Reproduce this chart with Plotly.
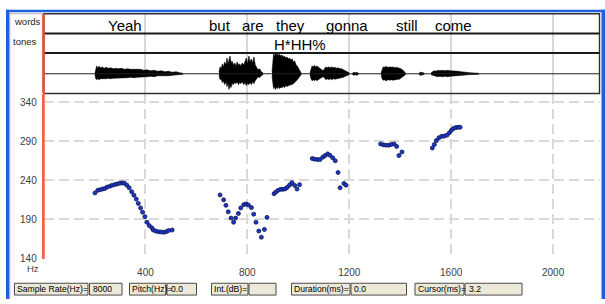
import plotly.graph_objects as go

W, H = 605, 304
def px(x): return x / W
def py(y): return 1 - y / H

# ---------------- data ----------------
pitch_t = [202, 213, 222, 232, 241, 250, 261, 270, 281, 290, 300, 309, 317, 327, 336, 346, 355, 364, 372, 381,
           389, 398, 406, 415, 425, 431, 440, 451, 461, 472, 481, 491, 505,
           693, 707, 716, 725, 736, 746, 754, 765, 774, 786, 795, 804, 816, 825, 834, 845, 855, 867, 877,
           905, 912, 921, 931, 940, 949, 957, 966, 975, 986, 995, 1005,
           1055, 1064, 1075, 1085, 1096, 1105, 1115, 1124, 1135, 1145, 1156, 1164, 1179, 1187,
           1323, 1334, 1344, 1355, 1365, 1376, 1386, 1395, 1407,
           1526, 1534, 1542, 1552, 1563, 1573, 1584, 1593, 1601, 1609, 1618, 1627, 1635]
pitch_hz = [223.8, 227.1, 227.9, 228.8, 229.6, 231.3, 232.5, 233.8, 234.6, 235.4, 236.3, 236.6, 236.3, 233.8,
            230.4, 225.4, 220.9, 215.9, 210.4, 204.6, 199.1, 193.4, 186.3, 182.0, 179.1, 176.3, 175.0, 174.1,
            173.8, 173.4, 174.1, 175.6, 176.3,
            221.3, 215.0, 207.9, 199.6, 191.6, 186.3, 191.6, 197.5, 204.6, 208.8, 209.6, 208.4, 205.0, 196.6,
            186.3, 175.0, 167.1, 177.1, 192.5,
            222.9, 225.0, 227.1, 228.4, 228.4, 229.1, 231.0, 234.1, 236.9, 233.4, 228.8, 234.4,
            267.9, 267.1, 266.6, 266.6, 269.6, 271.6, 273.8, 272.1, 268.8, 265.0, 250.0, 230.4, 235.9, 233.8,
            286.6, 285.4, 285.0, 285.0, 285.9, 286.6, 283.4, 271.6, 276.3,
            281.3, 285.9, 290.9, 294.6, 296.3, 296.6, 297.9, 300.9, 304.1, 306.3, 307.5, 307.9, 307.9]

x_ticks = [400, 800, 1200, 1600, 2000]
y_ticks = [140, 190, 240, 290, 340]

words = ["Yeah", "but", "are", "they", "gonna", "still", "come"]
word_t = [320, 693, 822, 971, 1191, 1425, 1611]
tones = ["H*HH%"]
tone_t = [1007]

# waveform envelope segments: time (ms), upper amplitude, lower amplitude
wave_segments = [
    ([202, 205, 209, 213, 218, 224, 230, 238, 246, 255, 264, 274, 284, 295, 306, 318, 330, 342, 355, 368,
      380, 393, 406, 420, 434, 448, 462, 476, 490, 505, 520, 535, 547],
     [1, 6, 8, 6, 7.5, 6, 7, 5.5, 6.5, 5.5, 6, 5, 5.5, 5, 5.5, 4.5, 5, 4.5, 4.5, 4, 4.5, 3.5, 4, 3, 3.5,
      2.5, 3, 2, 2.5, 1.5, 2, 1, 0.5],
     [1, 5, 6, 5, 6, 5, 5.5, 5, 5, 4.5, 5, 4.5, 4.5, 4, 4.5, 4, 4, 3.5, 4, 3.5, 3.5, 3, 3, 2.5, 3,
      2, 2.5, 2, 2, 1.5, 1.5, 1, 0.5]),
    ([689, 693, 697, 702, 706, 711, 716, 720, 724, 728, 732, 736, 740, 745, 750, 755, 760, 765, 770, 775,
      780, 786, 791, 796, 801, 806, 811, 816, 821, 826, 831, 836, 842, 848, 855, 861],
     [2, 7, 5, 10, 7, 12, 9, 16, 10, 14, 18, 11, 13, 9, 11, 8, 12, 9, 10, 8, 11, 9, 13, 16, 10, 18, 12,
      15, 11, 17, 9, 6, 4, 5, 2, 1],
     [2, 6, 5, 9, 7, 11, 8, 13, 9, 16, 12, 14, 10, 11, 9, 10, 8, 11, 9, 10, 8, 11, 9, 12, 10, 11, 9,
      11, 8, 10, 7, 5, 3, 4, 2, 1]),
    ([897, 900, 903, 906, 910, 914, 918, 922, 926, 931, 936, 941, 946, 951, 956, 961, 966, 971, 976, 981,
      986, 991, 996, 1002, 1007, 1011],
     [2, 10, 20, 17, 22, 19, 21, 18, 20, 18, 19, 17, 18, 16, 17, 15, 16, 14, 15, 12, 13, 9, 8, 5, 3, 1],
     [2, 9, 15, 13, 16, 14, 15, 13, 15, 14, 14, 13, 14, 12, 13, 12, 12, 11, 11, 10, 9, 8, 6, 4, 2, 1]),
    ([1046, 1050, 1054, 1058, 1063, 1068, 1073, 1078, 1084, 1090, 1097, 1103, 1108, 1113, 1119, 1125, 1131,
      1137, 1143, 1149, 1156, 1163, 1170, 1177, 1184, 1191, 1199],
     [1, 6, 8, 7, 8.5, 7, 8, 7, 6, 5, 3, 5, 7, 6, 7, 6, 7, 6, 6.5, 5.5, 6, 5, 5, 4, 3, 2, 1],
     [1, 5, 7, 6, 7, 6, 7, 6, 5, 4, 3, 4, 6, 5, 6, 5, 6, 5, 5.5, 5, 5, 4, 4, 3.5, 2.5, 1.5, 1]),
    ([1212, 1218, 1224, 1230, 1236], [0.5, 1.5, 1, 1.5, 0.5], [0.5, 1.5, 1, 1.5, 0.5]),
    ([1325, 1329, 1333, 1338, 1343, 1348, 1354, 1360, 1366, 1372, 1378, 1385, 1391, 1397, 1403, 1409, 1415, 1420],
     [1, 5, 7, 6.5, 7.5, 7, 6.5, 7, 6.5, 7, 6, 6.5, 6, 6, 5, 4, 2, 1],
     [1, 5, 6.5, 6, 7, 6.5, 6, 6.5, 6, 6.5, 6, 6, 5.5, 5.5, 4.5, 3.5, 2, 1]),
    ([1474, 1480, 1487, 1493], [0.8, 1.5, 1.2, 0.8], [0.8, 1.5, 1.2, 0.8]),
    ([1521, 1527, 1533, 1540, 1548, 1556, 1565, 1575, 1586, 1596, 1606, 1616, 1627, 1638, 1650, 1662, 1675,
      1688, 1700, 1708],
     [1, 2, 3, 2.5, 3.5, 3, 3.5, 3, 3.5, 3, 3, 2.5, 2.5, 2, 1.5, 1, 1, 0.8, 0.8, 0.5],
     [1, 2, 2.5, 2.5, 3, 2.5, 3, 2.5, 3, 2.5, 2.5, 2, 2, 1.5, 1.2, 1, 0.8, 0.8, 0.8, 0.5]),
]

status_labels = ["Sample Rate(Hz)=", "Pitch(Hz)=", "Int.(dB)=", "Duration(ms)=", "Cursor(ms)="]
status_values = ["8000", "0.0", "", "0.0", "3.2"]

# ---------------- layout geometry (pixels) ----------------
X0, X1 = 43.5, 600.0
XMAX = (X1 - X0) / 0.2548
WAVE_C = 20  # centre of waveform row in y2 units (95 - 75)

fig = go.Figure()

# waveform polygon
wx, wy = [], []
for t, up, lo in wave_segments:
    wx += list(t) + list(reversed(t)) + [None]
    wy += [WAVE_C + a for a in up] + [WAVE_C - a for a in reversed(lo)] + [None]
fig.add_trace(go.Scatter(x=wx, y=wy, xaxis="x2", yaxis="y2", mode="lines",
                         fill="toself", fillcolor="black", line=dict(color="black", width=0.6),
                         hoverinfo="skip", showlegend=False))

# pitch points
fig.add_trace(go.Scatter(x=pitch_t, y=pitch_hz, mode="markers",
                         marker=dict(size=4.0, color="#1f37c8", line=dict(width=0.8, color="#0b1450")),
                         showlegend=False))

font = "Arial, Liberation Sans, sans-serif"
fig.update_layout(
    width=W, height=H, margin=dict(l=0, r=0, t=0, b=0),
    paper_bgcolor="white", plot_bgcolor="white",
    font=dict(family=font, color="#333333"),
    xaxis=dict(domain=[px(X0), px(X1)], range=[0, XMAX], anchor="y",
               tickvals=x_ticks, ticktext=[str(v) for v in x_ticks],
               showgrid=True, gridcolor="#d9d9d9", gridwidth=2, griddash="10px,5px",
               zeroline=False, showline=False, ticks="", tickfont=dict(size=10, color="#404040"),
               ticklabelstandoff=6),
    yaxis=dict(domain=[py(263), py(96)], range=[139.6, 350], anchor="x",
               tickvals=y_ticks, ticktext=[str(v) for v in y_ticks],
               showgrid=True, gridcolor="#d9d9d9", gridwidth=2, griddash="10px,5px",
               zeroline=False, showline=True, linecolor="#f0644c", linewidth=1.5,
               ticks="", tickfont=dict(size=10, color="#404040"), ticklabelstandoff=3),
    xaxis2=dict(domain=[px(X0), px(X1)], range=[0, XMAX], anchor="y2",
                tickvals=x_ticks, showticklabels=False, showgrid=True,
                gridcolor="#d8d8d8", gridwidth=1.5, zeroline=False, showline=False, ticks=""),
    yaxis2=dict(domain=[py(95), py(14)], range=[0, 81], anchor="x2",
                showgrid=False, showticklabels=False, zeroline=False, ticks="",
                showline=True, linecolor="#f0644c", linewidth=1.5),
)

shapes = []
# window frame
shapes.append(dict(type="rect", xref="paper", yref="paper", x0=px(6), x1=px(9), y0=0, y1=py(10),
                   fillcolor="#1f5fe0", line=dict(width=0)))
shapes.append(dict(type="rect", xref="paper", yref="paper", x0=px(6), x1=1, y0=py(12.5), y1=py(10),
                   fillcolor="#1f5fe0", line=dict(width=0)))
shapes.append(dict(type="rect", xref="paper", yref="paper", x0=px(601.5), x1=1, y0=0, y1=py(10),
                   fillcolor="#1f5fe0", line=dict(width=0)))
shapes.append(dict(type="line", xref="paper", yref="paper", x0=px(9.7), x1=px(9.7), y0=0, y1=py(12.5),
                   line=dict(color="#a8a8a8", width=1.2)))
shapes.append(dict(type="line", xref="paper", yref="paper", x0=px(9.7), x1=px(44), y0=py(14), y1=py(14),
                   line=dict(color="#b0b0b0", width=1)))
# top panel box and rows
shapes.append(dict(type="rect", xref="paper", yref="paper", x0=px(44), x1=px(599.5), y0=py(95), y1=py(14),
                   line=dict(color="#303030", width=1.4)))
for yy in (34, 54):
    shapes.append(dict(type="line", xref="paper", yref="paper", x0=px(44), x1=px(599.5), y0=py(yy), y1=py(yy),
                       line=dict(color="#1a1a1a", width=2)))
shapes.append(dict(type="line", xref="paper", yref="y2", x0=px(44), x1=px(599.5), y0=WAVE_C, y1=WAVE_C,
                   line=dict(color="#202020", width=1)))
shapes.append(dict(type="line", xref="paper", yref="paper", x0=px(44), x1=px(44), y0=py(263), y1=py(14),
                   line=dict(color="#f0644c", width=1.5)))

annotations = []
annotations.append(dict(xref="paper", yref="paper", x=px(27.5), y=py(22), text="words", showarrow=False,
                        font=dict(size=9.5, color="#222"), xanchor="center", yanchor="middle"))
annotations.append(dict(xref="paper", yref="paper", x=px(24.5), y=py(42), text="tones", showarrow=False,
                        font=dict(size=9.5, color="#222"), xanchor="center", yanchor="middle"))
for w, t in zip(words, word_t):
    annotations.append(dict(xref="x2", yref="paper", x=t, y=py(25.5), text=w, showarrow=False,
                            font=dict(size=15, color="black"), xanchor="center", yanchor="middle"))
for w, t in zip(tones, tone_t):
    annotations.append(dict(xref="x2", yref="paper", x=t, y=py(45), text=w, showarrow=False,
                            font=dict(size=15, color="black"), xanchor="center", yanchor="middle"))
annotations.append(dict(xref="paper", yref="paper", x=px(33), y=py(272.5), text="Hz", showarrow=False,
                        font=dict(size=9.5, color="#404040"), xanchor="center", yanchor="middle"))

# status bar
lab_box = [(14.5, 88), (129.5, 166), (211.5, 248), (291.5, 350), (415, 464)]
val_box = [(89.5, 122), (167, 196.5), (249, 276), (351, 406.5), (465, 522)]
for (a, b), (c, d), lab, val in zip(lab_box, val_box, status_labels, status_values):
    for x0, x1 in ((a, b), (c, d)):
        shapes.append(dict(type="rect", xref="paper", yref="paper", x0=px(x0), x1=px(x1), y0=py(300), y1=py(288),
                           fillcolor="#ece9d8", line=dict(color="#4a4a4a", width=1)))
    annotations.append(dict(xref="paper", yref="paper", x=px(a + 0.5), y=py(294.3), text=lab, showarrow=False,
                            font=dict(size=8.6, color="black"), xanchor="left", yanchor="middle"))
    if val:
        annotations.append(dict(xref="paper", yref="paper", x=px(c + 1.5), y=py(294.3), text=val, showarrow=False,
                                font=dict(size=8.6, color="black"), xanchor="left", yanchor="middle"))

fig.update_layout(shapes=shapes, annotations=annotations)
fig.write_html("out.html", config={"displayModeBar": False})

# remove default page margins so the figure starts at the window's top-left corner
with open("out.html", "r", encoding="utf-8") as f:
    html = f.read()
html = html.replace("<head>", "<head><style>html,body{margin:0;padding:0;overflow:hidden;}</style>", 1)
with open("out.html", "w", encoding="utf-8") as f:
    f.write(html)
